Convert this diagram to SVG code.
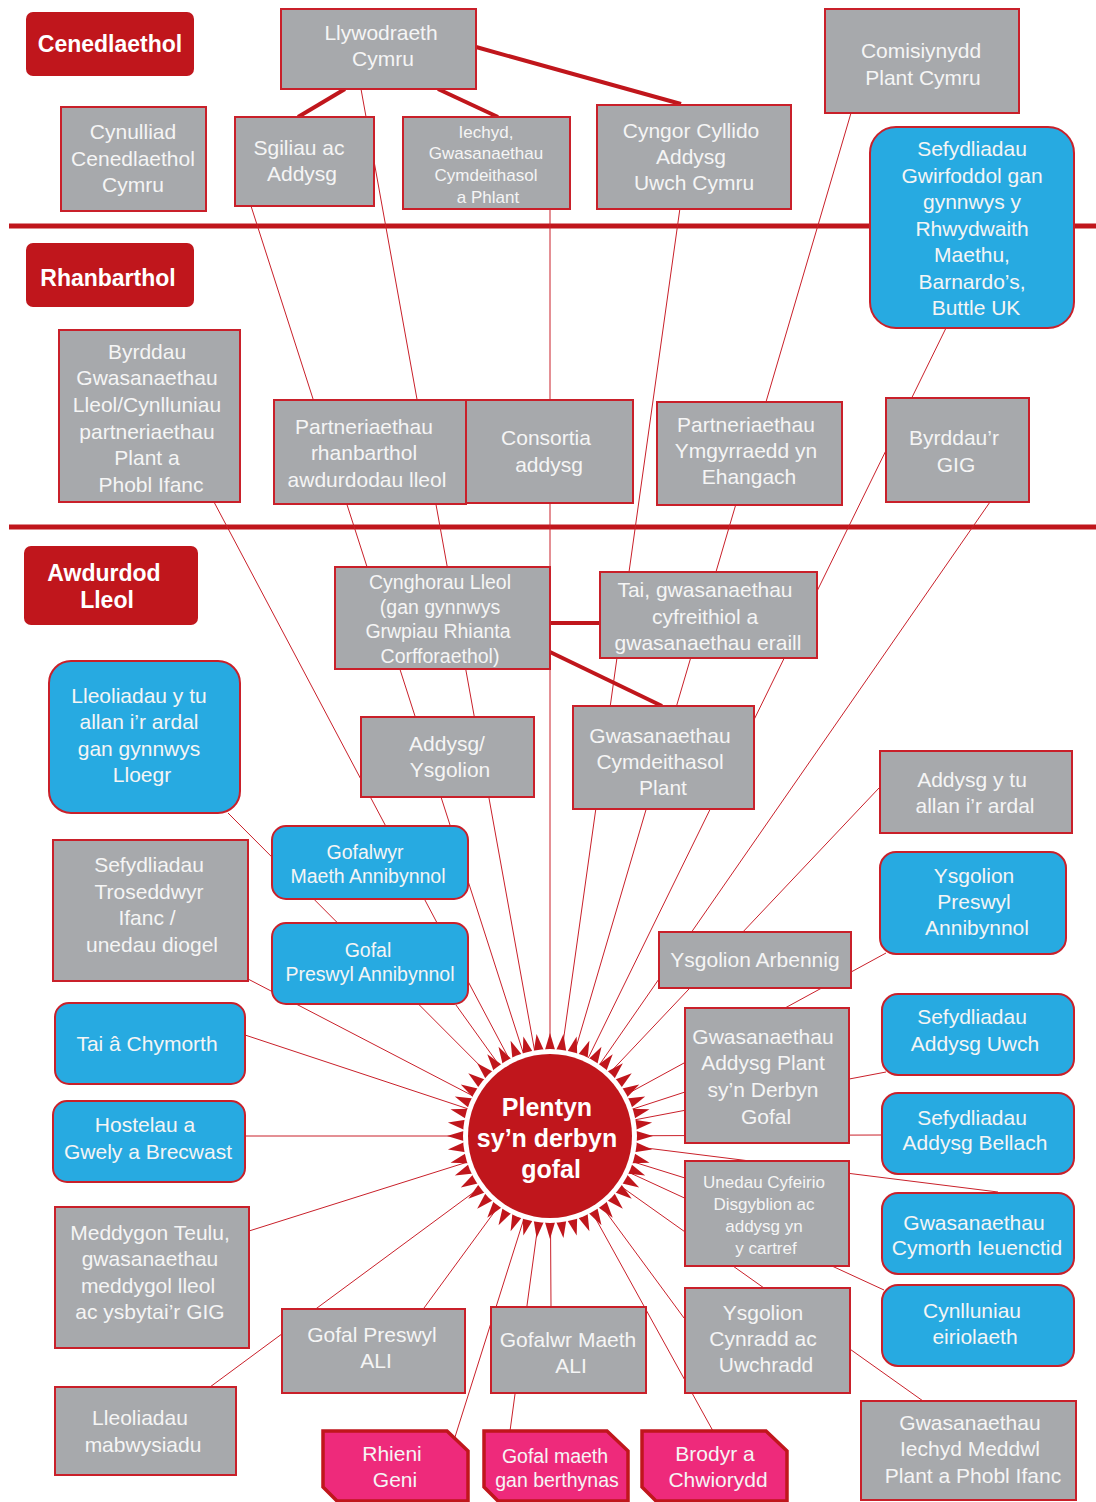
<svg xmlns="http://www.w3.org/2000/svg" xmlns:xlink="http://www.w3.org/1999/xlink" width="1096" height="1502" viewBox="0 0 1096 1502">
<style>
.g{fill:#a7a9ac;stroke:#c9202a;stroke-width:2}
.b{fill:#27aae1;stroke:#c9202a;stroke-width:2}
.p{fill:#ee2a7b;stroke:#c0161c;stroke-width:3.5}
.lab{fill:#c0161c}
text{font-family:"Liberation Sans",Arial,sans-serif;fill:#f5f5f5;text-anchor:middle}
.t{font-size:21px}
.s{font-size:17px}
.m{font-size:19.5px}
.lt{font-size:23px;font-weight:bold;fill:#fff}
.rl{stroke:#c9202a;stroke-width:1;fill:none}
.tk{stroke:#c0161c;stroke-width:4;fill:none}
.hl{stroke:#c0161c;stroke-width:5;fill:none}
</style>
<defs>
<polygon id="spike" points="542.5,1058 557.5,1058 550,1033" fill="#c0161c"/>
</defs>
<rect width="1096" height="1502" fill="#fff"/>
<g id="connectors">
<line class="hl" x1="9" y1="226" x2="1096" y2="226"/>
<line class="hl" x1="9" y1="527" x2="1096" y2="527"/>
<g class="rl">
<line x1="361" y1="89" x2="550" y2="1136"/>
<line x1="251" y1="206" x2="550" y2="1136"/>
<line x1="550" y1="209" x2="550" y2="1136"/>
<line x1="680" y1="208" x2="550" y2="1136"/>
<line x1="851" y1="113" x2="550" y2="1136"/>
<line x1="946" y1="328" x2="550" y2="1136"/>
<line x1="990" y1="502" x2="550" y2="1136"/>
<line x1="214" y1="502" x2="550" y2="1136"/>
<line x1="228" y1="813" x2="550" y2="1136"/>
<line x1="248" y1="979" x2="550" y2="1136"/>
<line x1="456" y1="1005" x2="550" y2="1136"/>
<line x1="245" y1="1035" x2="550" y2="1136"/>
<line x1="245" y1="1136" x2="550" y2="1136"/>
<line x1="249" y1="1231" x2="550" y2="1136"/>
<line x1="424" y1="1308" x2="550" y2="1136"/>
<line x1="210" y1="1387" x2="550" y2="1136"/>
<line x1="551" y1="1307" x2="550" y2="1136"/>
<line x1="510" y1="1431" x2="550" y2="1136"/>
<line x1="455" y1="1437" x2="550" y2="1136"/>
<line x1="713" y1="1431" x2="550" y2="1136"/>
<line x1="684" y1="1318" x2="550" y2="1136"/>
<line x1="923" y1="1401" x2="550" y2="1136"/>
<line x1="884" y1="1290" x2="550" y2="1136"/>
<line x1="998" y1="1192" x2="550" y2="1136"/>
<line x1="882" y1="1135" x2="550" y2="1136"/>
<line x1="886" y1="1072" x2="550" y2="1136"/>
<line x1="685" y1="1092" x2="550" y2="1136"/>
<line x1="685" y1="1178" x2="550" y2="1136"/>
<line x1="886" y1="953" x2="550" y2="1136"/>
<line x1="879" y1="788" x2="550" y2="1136"/>
</g>
<line class="tk" x1="345" y1="89" x2="298" y2="117"/>
<line class="tk" x1="438" y1="89" x2="498" y2="117"/>
<line class="tk" x1="476" y1="47" x2="681" y2="104"/>
<line class="tk" x1="550" y1="623" x2="600" y2="623"/>
<line class="tk" x1="550" y1="652" x2="662" y2="706"/>
</g>

<g id="label-cenedlaethol"><rect class="lab" x="26" y="12" width="168" height="64" rx="7"/><text class="lt" x="110" y="52">Cenedlaethol</text></g>
<g id="label-rhanbarthol"><rect class="lab" x="26" y="243" width="168" height="64" rx="7"/><text class="lt" x="108" y="286">Rhanbarthol</text></g>
<g id="label-awdurdod"><rect class="lab" x="24" y="546" width="174" height="79" rx="7"/><text class="lt"><tspan x="104" y="581">Awdurdod</tspan><tspan x="107" y="608">Lleol</tspan></text></g>

<g id="llywodraeth"><rect class="g" x="281" y="9" width="195" height="80"/><text class="t"><tspan x="381" y="40">Llywodraeth</tspan><tspan x="383" y="66">Cymru</tspan></text></g>
<g id="cynulliad"><rect class="g" x="61" y="107" width="145" height="104"/><text class="t"><tspan x="133" y="138.5">Cynulliad</tspan><tspan x="133" y="165.5">Cenedlaethol</tspan><tspan x="133" y="191.5">Cymru</tspan></text></g>
<g id="sgiliau"><rect class="g" x="235" y="117" width="139" height="89"/><text class="t"><tspan x="299" y="155">Sgiliau ac</tspan><tspan x="302" y="181">Addysg</tspan></text></g>
<g id="iechyd"><rect class="g" x="403" y="117" width="167" height="92"/><text class="s"><tspan x="486" y="138">Iechyd,</tspan><tspan x="486" y="159">Gwasanaethau</tspan><tspan x="486" y="181">Cymdeithasol</tspan><tspan x="488" y="203">a Phlant</tspan></text></g>
<g id="cyngor"><rect class="g" x="597" y="105" width="194" height="104"/><text class="t"><tspan x="691" y="137.5">Cyngor Cyllido</tspan><tspan x="691" y="164">Addysg</tspan><tspan x="694" y="190">Uwch Cymru</tspan></text></g>
<g id="comisiynydd"><rect class="g" x="825" y="9" width="194" height="104"/><text class="t"><tspan x="921" y="57.5">Comisiynydd</tspan><tspan x="923" y="84.5">Plant Cymru</tspan></text></g>
<g id="gwirfoddol"><rect class="b" x="870" y="127" width="204" height="201" rx="26"/><text class="t"><tspan x="972" y="155.5">Sefydliadau</tspan><tspan x="972" y="182.5">Gwirfoddol gan</tspan><tspan x="972" y="209">gynnwys y</tspan><tspan x="972" y="235.5">Rhwydwaith</tspan><tspan x="972" y="262">Maethu,</tspan><tspan x="972" y="289">Barnardo’s,</tspan><tspan x="976" y="314.5">Buttle UK</tspan></text></g>

<g id="byrddau-gl"><rect class="g" x="59" y="330" width="181" height="172"/><text class="t"><tspan x="147" y="359">Byrddau</tspan><tspan x="147" y="385">Gwasanaethau</tspan><tspan x="147" y="412">Lleol/Cynlluniau</tspan><tspan x="147" y="439">partneriaethau</tspan><tspan x="147" y="465">Plant a</tspan><tspan x="151" y="492">Phobl Ifanc</tspan></text></g>
<g id="partneriaethau-rh"><rect class="g" x="274" y="400" width="192" height="104"/><text class="t"><tspan x="364" y="434">Partneriaethau</tspan><tspan x="364" y="460">rhanbarthol</tspan><tspan x="367" y="487">awdurdodau lleol</tspan></text></g>
<g id="consortia"><rect class="g" x="466" y="400" width="167" height="103"/><text class="t"><tspan x="546" y="445">Consortia</tspan><tspan x="549" y="472">addysg</tspan></text></g>
<g id="ymgyrraedd"><rect class="g" x="657" y="402" width="185" height="103"/><text class="t"><tspan x="746" y="432">Partneriaethau</tspan><tspan x="746" y="458">Ymgyrraedd yn</tspan><tspan x="749" y="484">Ehangach</tspan></text></g>
<g id="byrddau-gig"><rect class="g" x="886" y="398" width="143" height="104"/><text class="t"><tspan x="954" y="445">Byrddau’r</tspan><tspan x="956" y="472">GIG</tspan></text></g>

<g id="cynghorau"><rect class="g" x="335" y="567" width="215" height="102"/><text class="m"><tspan x="440" y="589">Cynghorau Lleol</tspan><tspan x="440" y="614">(gan gynnwys</tspan><tspan x="438" y="638">Grwpiau Rhianta</tspan><tspan x="440" y="663">Corfforaethol)</tspan></text></g>
<g id="tai-gwasanaethau"><rect class="g" x="600" y="572" width="217" height="86"/><text class="t"><tspan x="705" y="597">Tai, gwasanaethau</tspan><tspan x="705" y="624">cyfreithiol a</tspan><tspan x="708" y="650">gwasanaethau eraill</tspan></text></g>
<g id="gcp"><rect class="g" x="573" y="706" width="181" height="103"/><text class="t"><tspan x="660" y="743">Gwasanaethau</tspan><tspan x="660" y="769">Cymdeithasol</tspan><tspan x="663" y="795">Plant</tspan></text></g>
<g id="addysg-ysgolion"><rect class="g" x="361" y="717" width="173" height="80"/><text class="t"><tspan x="447" y="751">Addysg/</tspan><tspan x="450" y="777">Ysgolion</tspan></text></g>
<g id="lleoliadau-allan"><rect class="b" x="49" y="661" width="191" height="152" rx="22"/><text class="t"><tspan x="139" y="703">Lleoliadau y tu</tspan><tspan x="139" y="729">allan i’r ardal</tspan><tspan x="139" y="756">gan gynnwys</tspan><tspan x="142" y="782">Lloegr</tspan></text></g>
<g id="addysg-allan"><rect class="g" x="880" y="751" width="192" height="82"/><text class="t"><tspan x="972" y="787">Addysg y tu</tspan><tspan x="975" y="813">allan i’r ardal</tspan></text></g>

<g id="gofalwyr-maeth"><rect class="b" x="272" y="826" width="196" height="73" rx="14"/><text class="m"><tspan x="365" y="859">Gofalwyr</tspan><tspan x="368" y="883">Maeth Annibynnol</tspan></text></g>
<g id="troseddwyr"><rect class="g" x="53" y="840" width="195" height="141"/><text class="t"><tspan x="149" y="872">Sefydliadau</tspan><tspan x="149" y="899">Troseddwyr</tspan><tspan x="147" y="925">Ifanc /</tspan><tspan x="152" y="952">unedau diogel</tspan></text></g>
<g id="gofal-preswyl"><rect class="b" x="272" y="923" width="196" height="81" rx="14"/><text class="m"><tspan x="368" y="957">Gofal</tspan><tspan x="370" y="981">Preswyl Annibynnol</tspan></text></g>
<g id="tai-chymorth"><rect class="b" x="55" y="1003" width="190" height="81" rx="14"/><text class="t"><tspan x="147" y="1051">Tai â Chymorth</tspan></text></g>
<g id="hostelau"><rect class="b" x="53" y="1101" width="192" height="81" rx="14"/><text class="t"><tspan x="145" y="1132">Hostelau a</tspan><tspan x="148" y="1159">Gwely a Brecwast</tspan></text></g>
<g id="ysgolion-arbennig"><rect class="g" x="659" y="932" width="192" height="56"/><text class="t"><tspan x="755" y="967">Ysgolion Arbennig</tspan></text></g>
<g id="ysgolion-preswyl"><rect class="b" x="880" y="852" width="186" height="102" rx="16"/><text class="t"><tspan x="974" y="883">Ysgolion</tspan><tspan x="974" y="909">Preswyl</tspan><tspan x="977" y="935">Annibynnol</tspan></text></g>
<g id="gwasanaethau-addysg"><rect class="g" x="685" y="1008" width="164" height="135"/><text class="t"><tspan x="763" y="1044">Gwasanaethau</tspan><tspan x="763" y="1070">Addysg Plant</tspan><tspan x="763" y="1097">sy’n Derbyn</tspan><tspan x="766" y="1124">Gofal</tspan></text></g>
<g id="addysg-uwch"><rect class="b" x="882" y="994" width="192" height="81" rx="16"/><text class="t"><tspan x="972" y="1024">Sefydliadau</tspan><tspan x="975" y="1051">Addysg Uwch</tspan></text></g>
<g id="addysg-bellach"><rect class="b" x="882" y="1093" width="192" height="81" rx="16"/><text class="t"><tspan x="972" y="1125">Sefydliadau</tspan><tspan x="975" y="1150">Addysg Bellach</tspan></text></g>
<g id="unedau"><rect class="g" x="685" y="1161" width="164" height="105"/><text class="s"><tspan x="764" y="1188">Unedau Cyfeirio</tspan><tspan x="764" y="1210">Disgyblion ac</tspan><tspan x="764" y="1232">addysg yn</tspan><tspan x="766" y="1254">y cartref</tspan></text></g>
<g id="cymorth-ieuenctid"><rect class="b" x="882" y="1193" width="192" height="81" rx="16"/><text class="t"><tspan x="974" y="1230">Gwasanaethau</tspan><tspan x="977" y="1255">Cymorth Ieuenctid</tspan></text></g>
<g id="cynlluniau"><rect class="b" x="882" y="1285" width="192" height="81" rx="16"/><text class="t"><tspan x="972" y="1318">Cynlluniau</tspan><tspan x="975" y="1344">eiriolaeth</tspan></text></g>
<g id="ysgolion-cynradd"><rect class="g" x="685" y="1288" width="165" height="105"/><text class="t"><tspan x="763" y="1320">Ysgolion</tspan><tspan x="763" y="1346">Cynradd ac</tspan><tspan x="766" y="1372">Uwchradd</tspan></text></g>
<g id="iechyd-meddwl"><rect class="g" x="861" y="1401" width="215" height="99"/><text class="t"><tspan x="970" y="1430">Gwasanaethau</tspan><tspan x="970" y="1456">Iechyd Meddwl</tspan><tspan x="973" y="1483">Plant a Phobl Ifanc</tspan></text></g>
<g id="meddygon"><rect class="g" x="55" y="1207" width="194" height="141"/><text class="t"><tspan x="150" y="1240">Meddygon Teulu,</tspan><tspan x="150" y="1266">gwasanaethau</tspan><tspan x="148" y="1293">meddygol lleol</tspan><tspan x="150" y="1319">ac ysbytai’r GIG</tspan></text></g>
<g id="gofal-preswyl-ali"><rect class="g" x="282" y="1309" width="183" height="84"/><text class="t"><tspan x="372" y="1342">Gofal Preswyl</tspan><tspan x="376" y="1368">ALI</tspan></text></g>
<g id="mabwysiadu"><rect class="g" x="55" y="1387" width="181" height="88"/><text class="t"><tspan x="140" y="1425">Lleoliadau</tspan><tspan x="143" y="1452">mabwysiadu</tspan></text></g>
<g id="gofalwr-maeth-ali"><rect class="g" x="491" y="1307" width="155" height="86"/><text class="t"><tspan x="568" y="1347">Gofalwr Maeth</tspan><tspan x="571" y="1373">ALI</tspan></text></g>

<g id="rhieni"><polygon class="p" points="323,1431 447,1431 468,1451 468,1501 337,1501 323,1487"/><text class="t"><tspan x="392" y="1461">Rhieni</tspan><tspan x="395" y="1487">Geni</tspan></text></g>
<g id="gofal-maeth-berthynas"><polygon class="p" points="484,1431 607,1431 628,1451 628,1501 498,1501 484,1487"/><text class="m"><tspan x="555" y="1463">Gofal maeth</tspan><tspan x="557" y="1487">gan berthynas</tspan></text></g>
<g id="brodyr"><polygon class="p" points="642,1431 766,1431 787,1451 787,1501 656,1501 642,1487"/><text class="t"><tspan x="715" y="1461">Brodyr a</tspan><tspan x="718" y="1487">Chwiorydd</tspan></text></g>

<g id="centre">
<use xlink:href="#spike" transform="rotate(0 550 1136)"/>
<use xlink:href="#spike" transform="rotate(7.5 550 1136)"/>
<use xlink:href="#spike" transform="rotate(15 550 1136)"/>
<use xlink:href="#spike" transform="rotate(22.5 550 1136)"/>
<use xlink:href="#spike" transform="rotate(30 550 1136)"/>
<use xlink:href="#spike" transform="rotate(37.5 550 1136)"/>
<use xlink:href="#spike" transform="rotate(45 550 1136)"/>
<use xlink:href="#spike" transform="rotate(52.5 550 1136)"/>
<use xlink:href="#spike" transform="rotate(60 550 1136)"/>
<use xlink:href="#spike" transform="rotate(67.5 550 1136)"/>
<use xlink:href="#spike" transform="rotate(75 550 1136)"/>
<use xlink:href="#spike" transform="rotate(82.5 550 1136)"/>
<use xlink:href="#spike" transform="rotate(90 550 1136)"/>
<use xlink:href="#spike" transform="rotate(97.5 550 1136)"/>
<use xlink:href="#spike" transform="rotate(105 550 1136)"/>
<use xlink:href="#spike" transform="rotate(112.5 550 1136)"/>
<use xlink:href="#spike" transform="rotate(120 550 1136)"/>
<use xlink:href="#spike" transform="rotate(127.5 550 1136)"/>
<use xlink:href="#spike" transform="rotate(135 550 1136)"/>
<use xlink:href="#spike" transform="rotate(142.5 550 1136)"/>
<use xlink:href="#spike" transform="rotate(150 550 1136)"/>
<use xlink:href="#spike" transform="rotate(157.5 550 1136)"/>
<use xlink:href="#spike" transform="rotate(165 550 1136)"/>
<use xlink:href="#spike" transform="rotate(172.5 550 1136)"/>
<use xlink:href="#spike" transform="rotate(180 550 1136)"/>
<use xlink:href="#spike" transform="rotate(187.5 550 1136)"/>
<use xlink:href="#spike" transform="rotate(195 550 1136)"/>
<use xlink:href="#spike" transform="rotate(202.5 550 1136)"/>
<use xlink:href="#spike" transform="rotate(210 550 1136)"/>
<use xlink:href="#spike" transform="rotate(217.5 550 1136)"/>
<use xlink:href="#spike" transform="rotate(225 550 1136)"/>
<use xlink:href="#spike" transform="rotate(232.5 550 1136)"/>
<use xlink:href="#spike" transform="rotate(240 550 1136)"/>
<use xlink:href="#spike" transform="rotate(247.5 550 1136)"/>
<use xlink:href="#spike" transform="rotate(255 550 1136)"/>
<use xlink:href="#spike" transform="rotate(262.5 550 1136)"/>
<use xlink:href="#spike" transform="rotate(270 550 1136)"/>
<use xlink:href="#spike" transform="rotate(277.5 550 1136)"/>
<use xlink:href="#spike" transform="rotate(285 550 1136)"/>
<use xlink:href="#spike" transform="rotate(292.5 550 1136)"/>
<use xlink:href="#spike" transform="rotate(300 550 1136)"/>
<use xlink:href="#spike" transform="rotate(307.5 550 1136)"/>
<use xlink:href="#spike" transform="rotate(315 550 1136)"/>
<use xlink:href="#spike" transform="rotate(322.5 550 1136)"/>
<use xlink:href="#spike" transform="rotate(330 550 1136)"/>
<use xlink:href="#spike" transform="rotate(337.5 550 1136)"/>
<use xlink:href="#spike" transform="rotate(345 550 1136)"/>
<use xlink:href="#spike" transform="rotate(352.5 550 1136)"/>
<circle cx="550" cy="1136" r="87" fill="#fff"/>
<circle cx="550" cy="1136" r="82" fill="#c0161c"/>
<text class="lt" style="font-size:25px"><tspan x="547" y="1116">Plentyn</tspan><tspan x="547" y="1147">sy’n derbyn</tspan><tspan x="551" y="1178">gofal</tspan></text>
</g>
</svg>
